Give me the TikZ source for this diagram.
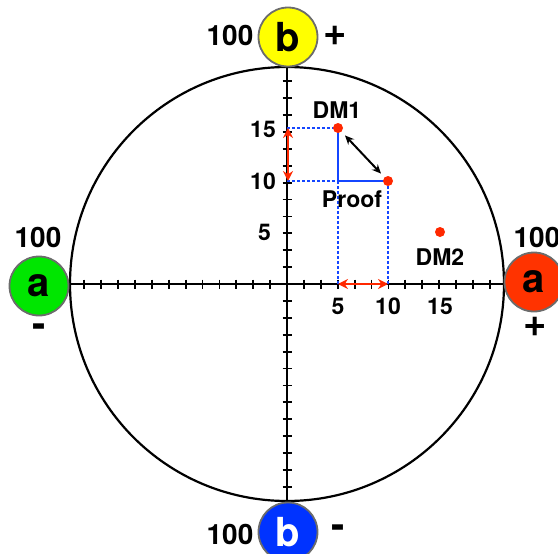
\documentclass[tikz,border=0pt]{standalone}
\usepackage{fontspec}
\setmainfont{TeX Gyre Heros}
\usetikzlibrary{arrows.meta}
\definecolor{ballyellow}{RGB}{255,255,0}
\definecolor{ballgreen}{RGB}{0,230,0}
\definecolor{ballred}{RGB}{255,51,0}
\definecolor{ballblue}{RGB}{0,51,255}
\definecolor{dotred}{RGB}{255,40,0}
\definecolor{lineblue}{RGB}{20,70,255}
\begin{document}
\begin{tikzpicture}[x=1pt,y=-1pt,
  ball/.style={circle, draw=gray!85!black, line width=1.8pt, minimum size=59pt, inner sep=0pt,
    font=\bfseries\fontsize{40}{40}\selectfont},
  big/.style={font=\bfseries\fontsize{28}{28}\selectfont, inner sep=0pt},
  sign/.style={font=\bfseries\fontsize{40}{40}\selectfont, inner sep=0pt},
  lab/.style={font=\bfseries\fontsize{23}{23}\selectfont, inner sep=0pt},
  dotpt/.style={circle, fill=dotred, minimum size=10pt, inner sep=0pt},
  blued/.style={lineblue, line width=2pt, dash pattern=on 2.5pt off 2.5pt},
  blues/.style={lineblue, line width=2.4pt},
  redarr/.style={dotred, line width=2.6pt, {Stealth[length=10pt,width=10pt]}-{Stealth[length=10pt,width=10pt]}},
  blackarr/.style={black, line width=2pt, {Stealth[length=9pt,width=8pt]}-{Stealth[length=9pt,width=8pt]}, shorten <=5pt, shorten >=5pt}
]
\useasboundingbox (0,0) rectangle (558,554);
\coordinate (O) at (287,284);
\draw[line width=2.2pt] (O) circle (217);
\coordinate (L) at (70,284);
\coordinate (R) at (504,284);
\coordinate (T) at (287,67);
\coordinate (B) at (287,501);
\draw[line width=2.2pt] (L) -- (R);
\draw[line width=2.2pt] (T) -- (B);
\foreach \k in {-12,...,-1,1,2,...,12} {
  \draw[line width=1.8pt] ({287+\k*16.9},279.5) -- ++(0,9);
  \draw[line width=1.8pt] (282.5,{284+\k*16.9}) -- ++(9,0);
}
% axis labels
\node[lab, anchor=east] (y15) at (276,129) {15};
\node[lab, anchor=east] (y10) at (276,181) {10};
\node[lab, anchor=east] (y5) at (271,232) {5};
\node[lab] (x5) at (338,306) {5};
\node[lab] (x10) at (388,306) {10};
\node[lab] (x15) at (440,306) {15};
% points
\coordinate (P15) at (287,128);
\coordinate (P10) at (287,181);
\coordinate (Q5) at (338,284);
\coordinate (Q10) at (388,284);
\coordinate (C) at (338,181);
\draw[blued] (P15) -- (338,128);
\draw[blued] (P10) -- (C);
\draw[blued] (C) -- (Q5);
\draw[blued] (388,181) -- (Q10);
\draw[blues] (338,128) -- (C) -- (388,181);
\node[dotpt] (dm1) at (338,128) {};
\node[dotpt] (pf) at (388,181) {};
\node[dotpt] (dm2) at (440,232) {};
\draw[blackarr] (dm1) -- (pf);
\draw[redarr] (288,128) -- (288,181);
\draw[redarr] (Q5) -- (Q10);
\node[lab] (dm1l) at (337,110) {DM1};
\node[lab] (pfl) at (352,199) {Proof};
\node[lab] (dm2l) at (440,257) {DM2};
% balls
\node[ball, fill=ballyellow] (bt) at (288,37) {b};
\node[ball, fill=ballgreen] (al) at (39,286) {a};
\node[ball, fill=ballred] (ar) at (534,282) {a};
\node[ball, fill=ballblue, text=white] (bb) at (288,532) {b};
\node[big] (t100) at (230,35) {100};
\node[sign] (tplus) at (335,36) {+};
\node[big] (l100) at (38,237) {100};
\node[sign] (lminus) at (39,331) {-};
\node[big] (r100) at (537,237) {100};
\node[sign] (rplus) at (535,327) {+};
\node[big] (b100) at (230,534) {100};
\node[sign] (bminus) at (338,532) {-};
\end{tikzpicture}
\end{document}
